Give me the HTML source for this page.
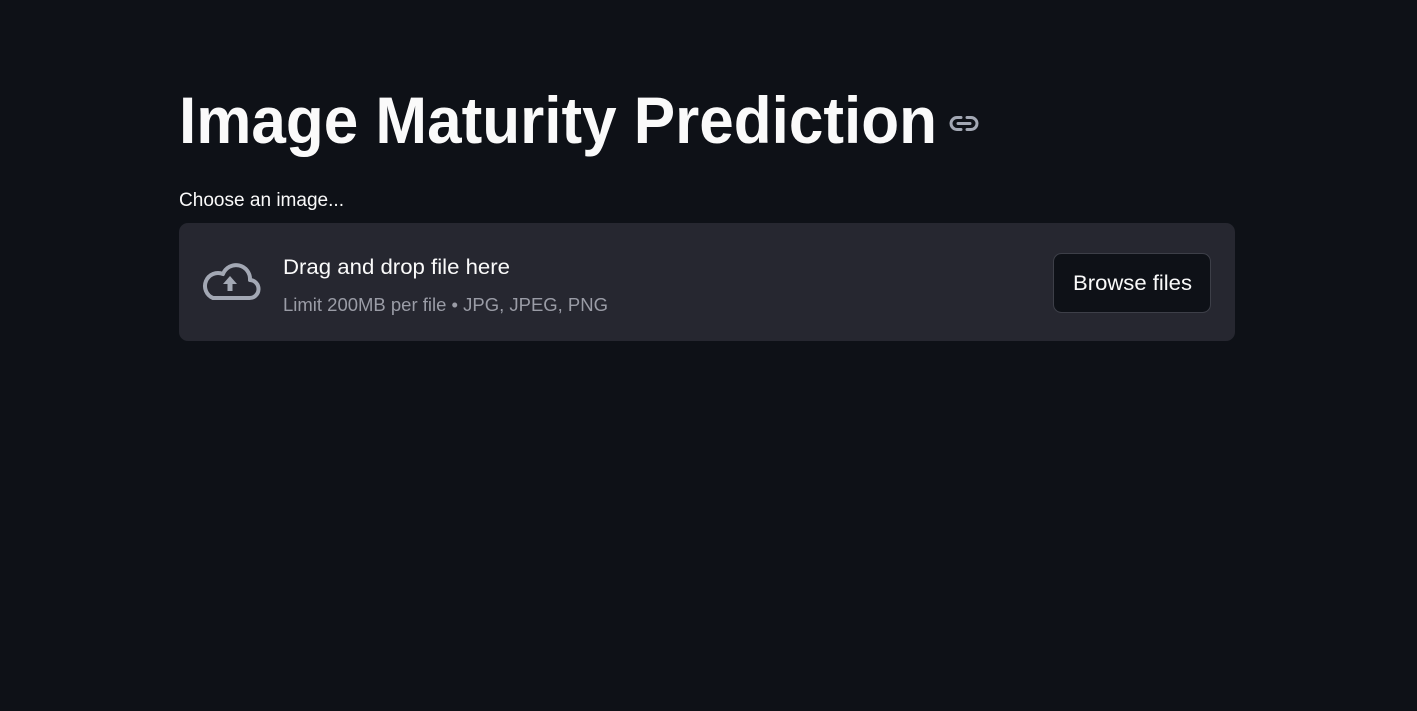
<!DOCTYPE html>
<html><head><meta charset="utf-8"><style>
html,body{margin:0;padding:0;background:#0e1117;width:1417px;height:711px;overflow:hidden}
svg{display:block}
text{font-family:"Liberation Sans",sans-serif}
</style></head><body>
<svg width="1417" height="711">
<rect width="1417" height="711" fill="#0e1117"/>
<text x="179" y="143" font-size="66" font-weight="bold" fill="#fafafa" textLength="758" lengthAdjust="spacingAndGlyphs">Image Maturity Prediction</text>
<g fill="none" stroke="#a3a8b4" stroke-width="3" stroke-linecap="round">
<path d="M961 117.5 h-4 a6 6 0 0 0 0 12 h4"/>
<path d="M967 117.5 h4 a6 6 0 0 1 0 12 h-4"/>
<path d="M958 123.5 h12"/>
</g>
<text x="179" y="206" font-size="19" fill="#fafafa" textLength="165" lengthAdjust="spacingAndGlyphs">Choose an image...</text>
<rect x="179" y="223" width="1056" height="118" rx="9" fill="#262730"/>
<g>
<path d="M213 298 h36 a9 9 0 0 0 1 -18 a14 14 0 0 0 -27 -6 a11 11 0 0 0 -10 24 z" fill="none" stroke="#a3a8b4" stroke-width="4" stroke-linejoin="round"/>
<path d="M230 276 l-7 8 h4.5 v7 h5 v-7 h4.5 z" fill="#a3a8b4"/>
</g>
<text x="283" y="274" font-size="21" fill="#fafafa" textLength="227" lengthAdjust="spacingAndGlyphs">Drag and drop file here</text>
<text x="283" y="311" font-size="18" fill="#9a9ca6" textLength="325" lengthAdjust="spacingAndGlyphs">Limit 200MB per file • JPG, JPEG, PNG</text>
<g>
<rect x="1053.5" y="253.5" width="157" height="59" rx="8" fill="#0e1117" stroke="#3d3f48" stroke-width="1"/>
<text x="1073" y="290" font-size="21" fill="#fafafa" textLength="119" lengthAdjust="spacingAndGlyphs">Browse files</text>
</g>
</svg>
</body></html>
